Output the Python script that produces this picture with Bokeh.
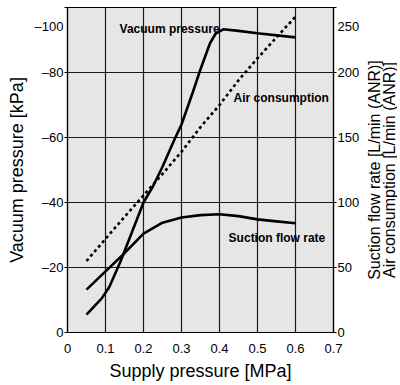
from bokeh.plotting import figure
from bokeh.models import Range1d, LinearAxis, FixedTicker, Label
from bokeh.layouts import row
from bokeh.embed import file_html
from bokeh.resources import INLINE

# ---- data ----
vac_x = [0.05, 0.09, 0.11, 0.14, 0.17, 0.2, 0.225, 0.25, 0.28, 0.3, 0.33, 0.35, 0.375, 0.39, 0.41, 0.45, 0.5, 0.6]
vac_kpa = [-5.5, -10.5, -14, -22, -31, -40, -45, -51, -59, -64, -74, -81, -89, -92, -93.3, -92.8, -92.1, -90.8]

flow_x = [0.05, 0.1, 0.15, 0.2, 0.25, 0.3, 0.35, 0.4, 0.45, 0.5, 0.55, 0.6]
suction_flow = [33, 47, 61, 76, 84.5, 88.5, 90.3, 91, 89.5, 87, 85.5, 84]
air_consumption = [55, 72, 89, 105.5, 122, 139, 158, 175, 194, 211, 227, 243]

x_ticks = [0, 0.1, 0.2, 0.3, 0.4, 0.5, 0.6, 0.7]
x_tick_labels = ["0", "0.1", "0.2", "0.3", "0.4", "0.5", "0.6", "0.7"]
left_ticks = [0, -20, -40, -60, -80, -100]
left_tick_labels = ["0", "\u201320", "\u201340", "\u201360", "\u201380", "\n\u2013100"]
right_ticks = [0, 50, 100, 150, 200, 250]
right_tick_labels = ["0", "50", "100", "150", "200", "\n250"]
right_axis_titles = ["Suction flow rate [L/min (ANR)]", "Air consumption [L/min (ANR)]"]

SANS = "Liberation Sans"

p = figure(frame_width=266, frame_height=325,
           x_range=Range1d(0, 0.7), y_range=Range1d(0, -100),
           output_backend="svg", toolbar_location=None,
           min_border_left=67, min_border_right=26, min_border_top=7, min_border_bottom=52)
p.extra_y_ranges = {"flow": Range1d(0, 250)}

p.background_fill_color = "#e6e6e6"
p.border_fill_color = "white"
p.outline_line_color = "black"
p.outline_line_width = 1.2

# grid
p.xgrid.ticker = FixedTicker(ticks=[0.1, 0.2, 0.3, 0.4, 0.5, 0.6])
p.ygrid.ticker = FixedTicker(ticks=[-20, -40, -60, -80])
for g in (p.xgrid, p.ygrid):
    g.grid_line_color = "#1a1a1a"
    g.grid_line_width = 1.2
    g.grid_line_alpha = 1

# bottom axis
xa = p.xaxis[0]
xa.ticker = FixedTicker(ticks=x_ticks)
xa.major_label_overrides = dict(zip(x_ticks, x_tick_labels))
xa.axis_label = "Supply pressure [MPa]"

# left axis
ya = p.yaxis[0]
ya.ticker = FixedTicker(ticks=left_ticks)
ya.major_label_overrides = dict(zip(left_ticks, left_tick_labels))
ya.axis_label = "Vacuum pressure [kPa]"

# right axis (ticks only, titles in the side panel figure)
ra = LinearAxis(y_range_name="flow", ticker=FixedTicker(ticks=right_ticks))
ra.major_label_overrides = dict(zip(right_ticks, right_tick_labels))
p.add_layout(ra, "right")

for ax in (xa, ya, ra):
    ax.axis_line_color = "black"
    ax.axis_line_width = 1.2
    ax.major_tick_in = 0
    ax.minor_tick_line_color = None
    ax.major_label_text_font = SANS
    ax.major_label_text_font_size = "13px"
    ax.major_label_text_color = "black"
    ax.axis_label_text_font = SANS
    ax.axis_label_text_font_style = "normal"
    ax.axis_label_text_font_size = "18px"
    ax.axis_label_text_color = "black"

xa.major_tick_out = 0
xa.major_label_standoff = 11
xa.axis_label_standoff = 5
ya.major_tick_out = 3
ya.major_tick_line_color = "black"
ya.major_label_standoff = 1
ya.axis_label_standoff = 5
ra.major_tick_out = 3
ra.major_tick_line_color = "black"
ra.major_label_standoff = 1

# curves
p.line(vac_x, vac_kpa, line_color="black", line_width=2.6)
p.line(flow_x, suction_flow, y_range_name="flow", line_color="black", line_width=2.6)
p.line(flow_x, air_consumption, y_range_name="flow", line_color="black",
       line_width=2.6, line_dash="3 3")

# curve annotations
for tx, ty, txt in [(0.137, -93.5, "Vacuum pressure"),
                    (0.437, -72.3, "Air consumption"),
                    (0.424, -29.2, "Suction flow rate")]:
    p.add_layout(Label(x=tx, y=ty, text=txt, text_align="left", text_baseline="middle",
                       text_font=SANS, text_font_style="bold",
                       text_font_size="12px", text_color="black"))

# side panel carrying the right-hand axis titles (read bottom-to-top)
p2 = figure(frame_width=1, frame_height=325, output_backend="svg", toolbar_location=None,
            x_axis_location=None, y_axis_location=None,
            min_border_left=0, min_border_right=0, min_border_top=7, min_border_bottom=52)
p2.outline_line_color = None
p2.background_fill_color = None
p2.border_fill_color = "white"
p2.xgrid.visible = False
p2.ygrid.visible = False
p2.line([0, 1], [0, 1], line_alpha=0)
standoffs = [-1, -5]
for title, so in zip(reversed(right_axis_titles), standoffs):
    ax = LinearAxis(ticker=FixedTicker(ticks=[]))
    ax.axis_line_color = None
    ax.major_tick_out = 0
    ax.major_tick_in = 0
    ax.minor_tick_line_color = None
    ax.major_label_standoff = 0
    ax.axis_label = title
    ax.axis_label_standoff = so
    ax.axis_label_text_font = SANS
    ax.axis_label_text_font_style = "normal"
    ax.axis_label_text_font_size = "16px"
    ax.axis_label_text_color = "black"
    p2.add_layout(ax, "left")

layout = row(p, p2, spacing=0)
open("out.html", "w").write(file_html(layout, INLINE))
